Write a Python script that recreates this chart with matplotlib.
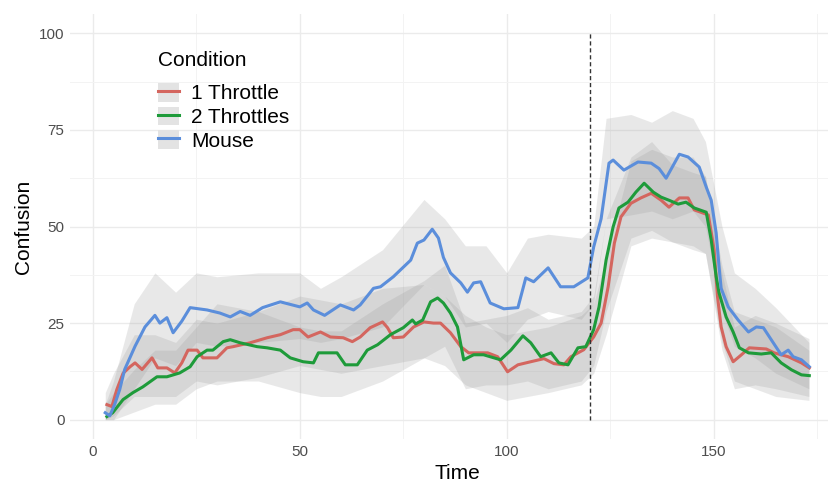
import numpy as np
import matplotlib
matplotlib.use("Agg")
import matplotlib.pyplot as plt
from matplotlib.lines import Line2D
from matplotlib.patches import Patch
from matplotlib.legend_handler import HandlerTuple

plt.rcParams['font.family'] = ['Liberation Sans', 'DejaVu Sans']

# mean confusion per condition
mouse_t = [3, 4.1, 5.3, 6.5, 7.7, 10.2, 12.6, 15, 16.2, 17.9, 19.4, 21.5, 23.5, 27.6, 30.7, 33.2,
           35.6, 38, 41, 45.3, 50, 51.8, 53.3, 56, 59.8, 63, 64.6, 67.8, 69.5, 72.6, 76.8, 78.4,
           80, 82, 83.5, 84.7, 86.4, 88.9, 90.5, 92, 93.7, 96, 99.3, 102.7, 104.6, 106.5, 110,
           113, 116.2, 119.6, 121, 122.8, 124.7, 125.7, 128.3, 131.7, 134.9, 136.8, 138.5, 141.7,
           143.8, 146.5, 148.2, 149.4, 150.6, 151.3, 151.8, 153.5, 155.9, 158.4, 160.3, 162,
           163.9, 166.3, 168, 169.2, 171.2, 173.1]
mouse_y = [1.8, 1, 4, 7.8, 13, 19, 24, 27, 25, 26.4, 22.5, 25.5, 29, 28.4, 27.6, 26.6,
           28, 27, 29, 30.5, 29.2, 30.2, 28.4, 27, 29.7, 28.4, 29.7, 34, 34.4, 37, 41.3, 45.7,
           46.5, 49.3, 47, 42, 38, 35.4, 33, 35.4, 35.7, 30.2, 28.7, 29, 36.7, 35.7, 39.3,
           34.4, 34.4, 36.7, 44.7, 52, 66.4, 67.2, 64.6, 66.7, 66.4, 65, 62.5, 68.7,
           68, 65.4, 60.2, 56.8, 48.3, 39.5, 34, 29.2, 25.8, 22.7, 24, 23.8,
           20.7, 16.8, 18, 16.3, 15.5, 13.7]

one_t = [3.4, 4.6, 5.8, 7.3, 9, 10.2, 11.9, 14.3, 15.7, 17.9, 19.8, 21.5, 23, 25.2, 26.6, 30,
         32.4, 33.9, 38, 42.1, 45.3, 48.4, 50, 52, 55, 57.4, 60.5, 62.7, 64.6, 67, 70, 71.2,
         72.6, 75, 77.5, 80, 82.3, 84, 86.4, 88.9, 90.8, 93.7, 95.4, 97.8, 100.2, 102.7, 105.8,
         109, 111.4, 113.8, 115.5, 118.6, 121, 122.8, 124.5, 126, 127.6, 130, 132.4, 134.9,
         137.3, 139.2, 141.7, 143.8, 145.3, 148.7, 150.1, 150.9, 151.8, 153, 154.7, 156.7,
         158.6, 162.7, 164.6, 168, 171.2, 173.1]
one_y = [3.9, 3.4, 7.8, 12, 13.7, 14.7, 13, 16, 13.4, 13.4, 12.1, 14.7, 18, 18, 16, 16,
         18.6, 18.9, 19.9, 21.2, 22, 23.3, 23.3, 21.4, 22.7, 21.4, 21.2, 20.2, 21.4, 23.8, 25.3, 23.8,
         21.2, 21.4, 24, 25.3, 25, 25, 22.5, 18.9, 17.3, 17.3, 17.3, 16.3, 12.4, 14.2, 15,
         15.8, 14.5, 14.2, 16.3, 18.1, 21.4, 25, 34.4, 45.7, 52.5, 56, 57.4, 58.6,
         56.8, 55, 57.4, 57.4, 54.3, 53, 44, 32, 24, 18.9, 15, 16.8,
         18.6, 18.3, 17.3, 16.3, 14.7, 13.4]

two_t = [3.4, 4.8, 7.3, 9.7, 12.1, 15.5, 17.9, 21, 23.5, 25.2, 27.6, 29, 31.5, 33.2, 35.6, 39.7,
         42.1, 45.3, 47.7, 50.8, 53.3, 54.5, 59, 61, 63.9, 66.3, 68.8, 71.9, 75, 77.2, 78, 79.7,
         81.6, 83.3, 84.7, 86.4, 88.1, 89.6, 92, 94.4, 98.5, 101, 103.9, 105.8, 108.2, 110.7,
         112.6, 114.8, 117.2, 119.1, 121, 122.3, 124, 125.7, 127.1, 129.3, 131.2, 133.2, 135.4,
         137.3, 139.2, 141.4, 143.3, 145.3, 148.2, 149.4, 150.6, 151.3, 153, 154.7, 156.2,
         158.4, 161.5, 163.9, 166.3, 168.8, 171.2, 173.1]
two_y = [0.8, 1.8, 5.2, 7, 8.5, 11.1, 11.1, 12.1, 13.7, 16.3, 18, 18, 20.2, 20.7, 19.9, 18.9,
         18.6, 18, 16, 15, 14.7, 17.3, 17.3, 14.2, 14.2, 18, 19.4, 22, 23.8, 25.8, 24.8, 25.8,
         30.5, 31.5, 30.2, 27.6, 24, 15.5, 16.8, 16.8, 15.5, 18, 21.7, 19.9, 16.3, 17.3,
         14.7, 14.2, 18.6, 18.9, 23.3, 29.2, 41.3, 49.9, 54.8, 56.3, 58.9, 61.2, 58.9,
         57.6, 56.8, 55.8, 56.3, 54.8, 53.7, 46.5, 37, 32.8, 26.6, 22.7, 18.6,
         17.3, 17, 17.3, 14.7, 12.9, 11.6, 11.4]

# confidence ribbons, coarse grid
band_t = [3, 5, 10, 15, 20, 25, 30, 40, 50, 55, 60, 70, 80, 85, 90, 95, 100, 105, 110, 118,
          121, 124, 130, 135, 140, 145, 148, 152, 155, 160, 165, 173]
mouse_lo = [0, 0, 8, 16, 14, 20, 19, 20, 21, 20, 21, 24, 35, 32, 24, 25, 20, 26, 28, 26,
            30, 52, 53, 54, 52, 54, 50, 28, 19, 16, 12, 8]
mouse_hi = [4, 10, 30, 38, 33, 38, 37, 38, 38, 34, 37, 44, 57, 52, 45, 45, 38, 47, 48, 47,
            50, 78, 79, 77, 80, 78, 72, 50, 38, 34, 29, 20]
one_lo = [0, 1, 6, 6, 6, 10, 9, 11, 14, 13, 12, 14, 16, 14, 9, 7, 5, 6, 7, 9,
          12, 22, 45, 47, 46, 45, 43, 18, 8, 9, 8, 6]
one_hi = [7, 12, 22, 22, 20, 26, 25, 28, 32, 31, 30, 34, 35, 32, 27, 24, 22, 23, 24, 27,
          30, 42, 67, 70, 68, 68, 63, 38, 24, 27, 25, 21]
two_lo = [0, 0, 2, 4, 4, 8, 10, 10, 7, 6, 6, 10, 16, 19, 8, 9, 9, 10, 8, 10,
          14, 28, 47, 49, 46, 44, 43, 20, 10, 8, 6, 5]
two_hi = [4, 7, 13, 18, 18, 24, 30, 28, 24, 23, 23, 30, 36, 40, 25, 26, 27, 29, 26, 28,
          32, 52, 68, 72, 66, 64, 63, 40, 28, 26, 24, 18]

labels = ['1 Throttle', '2 Throttles', 'Mouse']
colors = ['#D4665F', '#1E9B3A', '#5B8EDB']

fig = plt.figure(figsize=(8.29, 4.84), dpi=100)
# panel runs a little past the right edge, as in the cropped original
ax = fig.add_axes([0.0845, 0.093, 0.9337, 0.878])

for lo, hi in [(one_lo, one_hi), (two_lo, two_hi), (mouse_lo, mouse_hi)]:
    ax.fill_between(band_t, lo, hi, color='#9A9A9A', alpha=0.22, linewidth=0)

ax.plot(one_t, one_y, color=colors[0], lw=2.2)
ax.plot(two_t, two_y, color=colors[1], lw=2.2)
ax.plot(mouse_t, mouse_y, color=colors[2], lw=2.2)

ax.vlines(120, 0, 100, colors='#333333', linestyles=(0, (3, 2)), lw=1)

ax.set_xlim(-5.5, 181.5)
ax.set_ylim(-5, 105)
ax.set_xticks([0, 50, 100, 150])
ax.set_yticks([0, 25, 50, 75, 100])
ax.set_xticks([25, 75, 125, 175], minor=True)
ax.set_yticks([12.5, 37.5, 62.5, 87.5], minor=True)
ax.grid(which='major', color='#EBEBEB', lw=1)
ax.grid(which='minor', color='#F3F3F3', lw=0.7)
ax.set_axisbelow(True)
for s in ax.spines.values():
    s.set_visible(False)
ax.tick_params(which='both', length=0, labelsize=11, labelcolor='#4D4D4D', pad=4)
ax.set_xlabel('Time', fontsize=15, labelpad=4)
ax.set_ylabel('Confusion', fontsize=15, labelpad=4)

handles = [(Patch(facecolor='#E3E3E3', edgecolor='none'), Line2D([], [], color=c, lw=2.2)) for c in colors]
leg = ax.legend(handles, labels, handler_map={tuple: HandlerTuple(ndivide=1, pad=0)},
                loc='upper left', bbox_to_anchor=(0.114, 0.912), frameon=False,
                title='Condition', fontsize=15, title_fontsize=15, alignment='left',
                handlelength=1.0, handleheight=1.0, handletextpad=0.58, labelspacing=0.15,
                borderpad=0, borderaxespad=0)
leg._legend_box.sep = 9

fig.savefig('out.png', dpi=100)
